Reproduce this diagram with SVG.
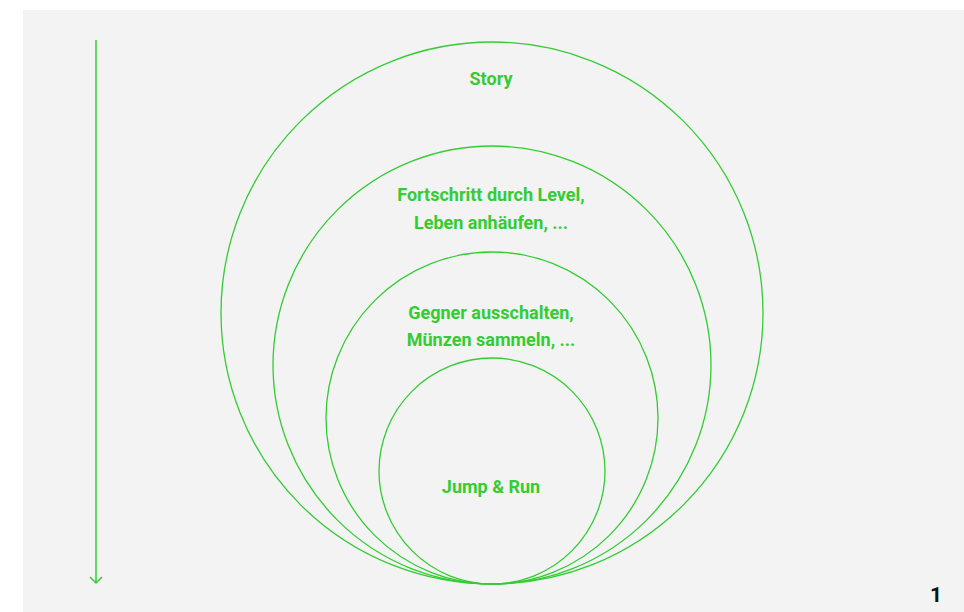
<svg xmlns="http://www.w3.org/2000/svg" width="964" height="612" viewBox="0 0 964 612">
<style>
.c{fill:none;stroke:#33cc33;stroke-width:1.3}
.t{font-family:Roboto,"Liberation Sans",sans-serif;font-weight:bold;font-size:18px;fill:#33cc33;text-anchor:middle}
</style>
<rect x="0" y="0" width="964" height="612" fill="#ffffff"/>
<rect x="23" y="10" width="941" height="602" fill="#f3f3f3"/>
<g id="connectors">
<line x1="96" y1="40" x2="96" y2="583" stroke="#33cc33" stroke-width="1.5"/>
<polyline points="90,577 96,583 102,577" fill="none" stroke="#33cc33" stroke-width="1.5"/>
</g>
<g id="story"><circle class="c" cx="492" cy="313" r="271"/><text class="t" x="491" y="85">Story</text></g>
<g id="level"><circle class="c" cx="492" cy="365" r="219"/><text class="t" x="491" y="201">Fortschritt durch Level,</text><text class="t" x="491" y="229">Leben anhäufen, ...</text></g>
<g id="gegner"><circle class="c" cx="492" cy="418" r="166"/><text class="t" x="491" y="319">Gegner ausschalten,</text><text class="t" x="491" y="346">Münzen sammeln, ...</text></g>
<g id="jump"><circle class="c" cx="492" cy="471" r="113"/><text class="t" x="491" y="493">Jump &amp; Run</text></g>
<text x="936" y="602" font-family="Roboto,'Liberation Sans',sans-serif" font-weight="bold" font-size="21" fill="#111" text-anchor="middle">1</text>
</svg>
